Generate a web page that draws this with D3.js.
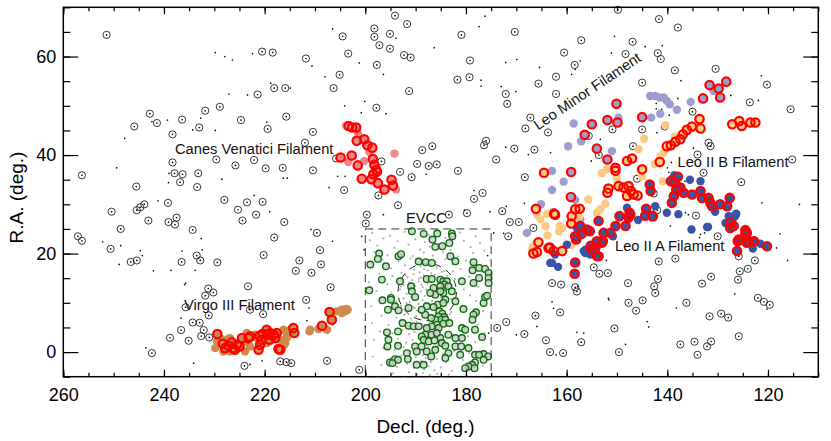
<!DOCTYPE html>
<html>
<head>
<meta charset="utf-8">
<script src="https://cdn.jsdelivr.net/npm/d3@7"></script>
<style>
  body { margin: 0; background: #fff; }
  text { font-family: "Liberation Sans", Arial, Helvetica, sans-serif; }
</style>
</head>
<body>
<div id="chart"></div>
<script>
// axis ranges and ticks
const decRange = [260, 110], raRange = [-5, 70];
const decMajor = [260, 240, 220, 200, 180, 160, 140, 120];
const raMajor = [0, 20, 40, 60];
const decMinor = d3.range(110, 261, 5), raMinor = d3.range(-5, 71, 5);

// background galaxies (open circles with a centre dot)
const galaxies = [
  [251.4,64.4],[220.5,61.0],[218.4,60.8],[218.1,53.6],[221.4,52.3],[228.9,49.8],[231.8,49.0],[242.8,48.4],[241.4,46.5],[236.4,47.2],
  [245.9,45.8],[233.0,45.6],[224.7,47.1],[219.4,45.3],[238.3,44.2],[229.6,39.1],[225.8,37.9],[222.1,39.0],[219.8,37.3],[238.3,38.5],
  [237.9,36.3],[236.3,36.1],[233.2,36.3],[236.8,34.5],[233.4,33.5],[245.5,33.6],[256.3,35.9],[228.0,30.9],[223.5,30.4],[220.4,30.5],
  [239.2,30.3],[243.9,30.0],[244.7,29.4],[245.4,28.8],[250.4,28.5],[225.3,28.9],[221.7,27.9],
  [194.1,68.3],[191.7,66.6],[198.2,65.7],[198.2,64.0],[195.1,64.6],[204.5,64.1],[197.2,62.3],[195.1,61.6],[203.4,60.6],[192.3,60.3],
  [191.0,59.8],[211.8,59.6],[197.7,58.3],[205.1,56.3],[206.3,53.6],[215.9,53.6],[191.3,53.0],[197.8,49.6],[215.7,47.8],[210.4,44.7],
  [212.0,42.5],[205.8,39.3],[216.4,37.4],[210.4,36.9],[204.2,32.9],[197.4,31.8],[193.5,29.8],[199.7,27.9],[196.8,38.7],[193.1,36.6],
  [190.8,35.5],[189.7,38.2],[187.4,37.8],[185.8,38.1],[188.7,41.0],[186.7,41.8],[181.6,36.8],[176.0,42.9],[176.4,42.0],[174.0,39.1],
  [170.4,41.3],[166.4,41.1],[168.3,35.5],[180.9,64.4],[179.2,59.2],[181.7,55.3],[179.3,55.8],[170.3,65.0],[172.1,52.4],[171.8,50.4],
  [165.6,54.5],[167.2,47.6],[168.2,45.4],[163.7,44.6],[176.7,32.3],[178.4,31.1],[172.8,28.6],[179.8,28.2],[183.4,27.9],
  [149.8,69.5],[141.65,67.6],[137.9,65.9],[157.1,63.3],[146.9,63.0],[160.5,60.8],[148.3,60.5],[141.9,60.7],[141.3,59.5],[158.4,58.3],
  [138.5,57.2],[130.4,57.5],[162.1,55.9],[145.0,54.7],[120.2,54.3],[162.1,52.4],[123.6,50.7],[115.5,49.3],[135.0,48.8],[150.9,45.2],
  [145.0,45.2],[140.5,45.8],[155.6,43.9],[131.8,42.5],[131.4,41.8],[146.8,41.8],[153.6,40.0],[134.0,40.1],[132.8,36.4],[115.2,39.1],
  [125.3,34.5],[142.7,32.2],[142.0,28.8],[134.3,27.7],[146.0,35.2],[166.6,25.2],
  [243.1,26.7],[239.1,26.4],[237.8,25.9],[237.5,27.3],[248.6,25.0],[234.3,24.8],[224.4,26.7],[257.1,23.5],[256.3,22.6],[250.6,20.95],
  [246.6,18.3],[245.4,18.6],[236.5,18.3],[233.5,19.6],[232.8,18.6],[229.4,18.2],[220.2,19.7],[218.1,23.25],[231.2,12.9],[231.8,11.45],
  [230.2,12.1],[223.3,13.35],[235.7,9.1],[222.9,8.6],[220.3,7.7],[231.1,7.45],[234.3,6.0],[232.9,5.96],[236.6,4.47],[232.1,4.47],
  [232.6,3.25],[231.0,2.97],[238.8,2.9],[235.1,2.3],[242.4,-0.21],[224.0,-2.79],
  [216.1,26.4],[209.6,24.2],[199.9,26.1],[209.0,20.7],[213.1,18.6],[208.8,17.8],[213.8,16.5],[210.7,16.1],[206.9,13.15],[211.75,10.6],
  [207.6,-1.77],[216.9,-1.9],[215.7,-2.05],[214.7,-2.25],[201.2,-3.6],[171.3,26.4],[169.5,26.4],[171.6,23.5],[173.8,4.9],[172.0,6.1],
  [168.4,3.65],[164.1,2.4],[166.2,7.4],
  [130.0,23.5],[141.7,18.4],[138.4,18.98],[125.8,19.45],[125.6,16.4],[124.0,16.9],[122.6,18.6],[125.95,14.7],[154.6,17.2],[153.5,15.9],
  [151.8,16.05],[147.8,14.0],[162.9,14.0],[161.1,13.7],[158.3,13.15],[157.95,12.3],[141.85,14.85],[142.6,13.35],[142.4,12.0],[133.1,13.9],
  [131.3,15.3],[147.7,10.0],[144.9,10.5],[146.2,8.4],[136.2,10.0],[122.0,11.0],[120.8,10.2],[119.65,9.6],[161.3,8.05],[131.6,7.25],
  [129.3,7.8],[127.9,7.0],[150.5,4.8],[125.8,3.2],[157.1,2.0],[137.4,1.55],[134.6,2.1],[131.3,2.15],[132.1,1.15],[134.0,-0.55],
  [163.3,0.0],[160.7,-0.2],[149.6,0.0]
];

// other galaxies (small dots)
const smallDots = [
  [229.8,60.8],[227.9,60.0],[226.4,59.3],[222.4,60.6],[218.8,54.6],[227.1,52.4],[223.4,52.2],[239.3,47.1],[242.4,46.8],[232.7,47.5],
  [234.3,45.1],[229.8,45.0],[247.8,43.4],[219.6,46.7],[249.4,37.4],[239.0,36.3],[239.1,34.4],[228.5,35.1],[222.1,31.8],[241.2,30.7],[219.0,28.5],
  [206.5,65.6],[193.9,63.7],[210.6,58.1],[201.2,58.7],[208.0,55.9],[196.4,56.4],[214.9,53.6],[204.1,50.0],[200.1,50.9],[200.8,48.6],
  [195.9,48.4],[186.3,61.8],[177.4,66.1],[176.2,68.2],[172.1,58.8],[169.9,59.4],[165.4,57.8],[177.0,55.2],[177.0,54.0],[173.0,53.9],
  [170.1,52.9],[187.9,36.1],[172.1,41.6],[167.6,40.1],[205.5,35.7],[204.0,35.7],[207.2,33.4],[216.3,35.3],[215.5,35.3],[178.4,32.8],
  [180.3,28.8],[175.2,28.5],[172.0,29.6],[168.4,30.2],[196.4,27.9],
  [150.5,64.1],[151.1,60.7],[144.4,62.0],[141.0,62.2],[157.3,59.1],[159.0,56.4],[158.3,57.4],[137.3,55.1],[121.3,56.1],[127.4,52.1],
  [137.9,51.5],[121.9,51.1],[142.2,49.4],[141.1,49.3],[142.2,50.5],[139.6,48.1],[163.2,40.5],[155.1,38.8],[139.2,38.5],[140.0,37.4],
  [139.7,36.5],[139.5,35.7],[134.8,41.4],[124.5,39.5],[136.5,34.7],[121.2,30.3],[113.75,30.0],[135.8,27.9],[153.3,43.2],[142.05,44.55],
  [136.4,28.3],[134.8,25.2],[133.4,23.9],
  [252.2,22.4],[248.6,21.6],[244.7,20.6],[244.3,19.6],[248.9,17.8],[242.1,16.5],[238.6,16.6],[236.4,20.5],[233.8,16.6],[232.6,23.05],
  [232.4,20.75],[235.7,14.0],[235.9,13.7],[236.6,6.9],[243.6,0.87],[234.1,-2.25],[222.9,-2.5],[220.5,-1.77],
  [210.8,24.9],[206.5,22.5],[211.2,8.95],[206.5,5.55],[211.6,6.4],[174.5,24.2],[172.5,24.1],[175.7,19.6],[175.5,3.86],[170.0,3.5],
  [165.9,5.2],[200.7,23.5],[200.2,20.8],[200.0,5.2],
  [152.1,18.6],[116.1,18.6],[117.6,24.0],[118.3,21.15],[133.6,23.25],[132.6,24.2],[139.4,25.6],[126.6,11.8],[151.7,10.9],[151.6,10.6],
  [162.9,10.2],[162.6,8.9],[138.2,8.95],[144.0,6.2],[143.7,5.1],[157.95,4.0],[156.6,3.86],[148.3,1.55],[162.1,-0.55],[120.2,8.75],[157.8,13.35]
];

// EVCC region: faint catalogue dots and EVCC members
const evccBox = { dec: [200, 175], ra: [-5, 25] };
const virgoCircle = { dec: 187.7, ra: 12.2, radius: 5.8 };
const evccFaint = [
  [198.6,24.2],[195.1,23.6],[192.2,24.4],[187.4,23.8],[181.2,24.3],[178.1,23.5],
  [199.1,22.7],[196.4,23.1],[193.6,22.5],[190.1,22.9],[188.2,22.3],[184.1,23.2],[180.4,22.6],[177.2,22.1],
  [197.6,21.6],[194.2,21.2],[191.4,21.8],[189.1,20.8],[187.2,21.4],[185.4,21.9],[183.0,20.7],[179.1,21.3],[176.4,20.6],
  [198.2,20.3],[195.6,19.7],[192.4,20.4],[190.6,19.5],[188.4,20.2],[186.6,19.6],[184.6,20.3],[181.6,19.4],[178.6,20.1],
  [196.6,18.8],[193.4,18.4],[191.0,19.0],[189.6,18.1],[188.1,18.7],[186.0,18.3],[184.1,18.9],[182.6,17.8],[180.0,18.6],[177.0,17.6],
  [199.0,17.3],[194.9,17.0],[192.1,17.6],[190.3,16.7],[189.0,17.4],[187.6,16.6],[185.8,17.2],[184.3,16.4],[181.1,16.9],[176.1,16.2],
  [197.2,15.9],[194.6,15.4],[192.8,16.1],[191.6,15.2],[190.4,15.8],[189.3,14.9],[188.4,15.6],[187.3,15.1],[186.2,15.7],[185.0,15.0],
  [183.7,15.5],[182.2,14.8],[179.4,15.3],[176.8,14.6],
  [199.3,14.2],[195.6,13.8],[193.8,14.4],[192.4,13.6],[191.2,14.1],[190.1,13.4],[189.4,14.3],[188.6,13.2],[187.6,13.9],[186.6,13.1],
  [185.5,13.7],[184.2,12.9],[182.8,13.5],[180.4,12.7],[177.6,13.3],
  [197.8,12.4],[194.8,12.1],[193.1,12.7],[191.8,11.8],[190.8,12.5],[189.9,11.6],[189.0,12.3],[188.2,11.4],[187.3,12.1],[186.4,11.3],
  [185.4,12.0],[184.0,11.2],[182.3,11.9],[179.2,11.5],
  [196.2,10.7],[193.8,10.3],[192.4,10.9],[191.2,10.1],[190.3,10.6],[189.4,9.8],[188.6,10.5],[187.6,9.7],[186.7,10.4],[185.6,9.6],
  [184.2,10.2],[181.6,9.9],[178.0,10.4],
  [198.8,9.3],[194.9,8.9],[192.9,9.4],[191.5,8.6],[190.5,9.2],[189.7,8.4],[188.8,9.0],[187.9,8.2],[187.0,8.8],[186.0,8.0],
  [184.7,8.6],[182.9,8.1],[179.9,8.7],[176.6,8.3],
  [196.8,7.4],[193.8,7.0],[192.2,7.6],[190.9,6.8],[189.9,7.3],[189.0,6.6],[188.3,7.2],[187.5,6.4],[186.6,7.0],[185.4,6.3],[183.6,6.9],[178.6,7.1],
  [198.7,5.9],[195.4,5.5],[193.1,6.1],[191.6,5.3],[190.4,5.8],[189.5,5.0],[188.7,5.6],[187.9,4.8],[186.9,5.4],[185.7,4.7],
  [184.0,5.3],[181.4,4.9],[177.7,5.5],
  [197.1,4.2],[194.6,3.8],[192.6,4.4],[191.3,3.6],[190.2,4.1],[189.3,3.3],[188.5,3.9],[187.6,3.1],[186.5,3.7],[185.1,3.0],
  [182.8,3.6],[179.6,3.2],[176.3,3.8],
  [198.3,2.5],[195.7,2.1],[193.5,2.7],[191.9,1.9],[190.6,2.4],[189.7,1.6],[188.8,2.2],[187.8,1.4],[186.8,2.0],[185.6,1.3],
  [184.3,1.9],[181.2,1.5],[178.2,2.1],
  [196.4,0.8],[194.2,0.4],[192.4,1.0],[191.0,0.2],[190.0,0.7],[189.1,-0.1],[188.2,0.5],[187.2,-0.3],[186.1,0.3],[184.6,-0.4],[182.4,0.2],[179.3,-0.2],
  [198.5,-0.9],[195.0,-1.3],[192.8,-0.7],[191.2,-1.5],[190.0,-1.0],[188.9,-1.8],[188.0,-1.2],[187.0,-2.0],[185.8,-1.4],[184.0,-2.1],[180.6,-1.6],[177.0,-1.1],
  [196.8,-2.6],[193.7,-3.0],[191.7,-2.4],[190.4,-3.2],[189.3,-2.7],[188.3,-3.5],[187.4,-2.9],[186.3,-3.7],[185.0,-3.1],[182.8,-3.8],[179.4,-3.3],[176.6,-2.8],
  [194.5,-4.3],[191.3,-4.1],[189.7,-4.6],[188.5,-4.2],[187.2,-4.7],[185.7,-4.4],[183.4,-4.6],
  // denser core round M87
  [189.2,16.2],[188.3,16.9],[187.0,17.8],[186.9,16.0],[190.7,14.6],[188.9,13.7],[187.9,12.7],[186.0,12.6],[185.0,11.1],[189.5,10.9],
  [190.9,11.2],[188.0,10.0],[186.3,9.0],[189.1,8.0],[187.3,7.5],[185.0,7.4],[190.2,8.9],[191.8,9.9],[192.9,13.3],[192.0,15.6],
  [184.8,16.3],[183.9,14.2],[186.9,14.3],[188.9,15.1],[191.5,12.9],[185.9,10.1],[184.6,9.2],[189.8,6.2],[188.1,5.2],[186.2,4.2],
  [189.0,2.7],[187.5,0.9],[188.6,-0.6],[186.8,-1.1],[188.6,-2.3],[190.7,1.3],[185.2,5.9],[183.2,7.7],[183.0,10.8],[182.6,16.4]
];
const evccMembers = [
  [190.75,24.55],[188.4,24.0],[185.7,24.07],[182.8,24.07],[182.7,23.5],[186.65,22.85],[186.1,21.36],[184.7,21.5],[183.3,22.17],
  [197.25,20.0],[193.4,19.46],[192.9,19.87],[183.1,19.46],[197.5,18.92],[199.0,17.76],[195.9,17.42],[189.4,18.37],[188.0,18.24],
  [186.8,18.1],[182.1,18.44],[178.5,18.24],[177.4,17.09],[176.2,16.88],[178.7,16.61],[175.5,16.07],
  [196.7,14.71],[193.1,14.37],[190.9,13.36],[187.8,14.85],[186.8,14.85],[185.1,14.71],[184.5,14.37],[183.8,14.37],[184.3,13.7],
  [185.1,13.36],[183.5,13.36],[180.8,14.37],[178.5,14.03],[177.4,15.05],[175.5,15.05],[175.5,14.03],
  [199.2,12.54],[190.75,12.34],[186.45,13.02],[182.8,12.34],[184.5,12.0],[186.1,11.66],[190.1,11.19],[187.1,12.0],[185.1,12.34],
  [196.6,10.51],[194.9,10.98],[194.9,10.64],[184.1,10.64],[185.6,9.63],[184.5,9.97],[176.5,9.97],[176.2,11.19],[175.8,11.46],
  [194.1,9.29],[187.8,9.29],[186.45,9.15],[182.1,10.3],
  [195.5,8.61],[193.4,8.47],[191.4,8.95],[180.5,8.74],[178.0,8.07],[178.5,7.59],[178.7,6.57],[185.3,8.27],[184.7,7.8],[185.45,7.25],
  [184.3,7.12],[184.9,6.57],[186.1,6.57],[184.1,6.57],[186.9,6.91],[188.1,7.59],[188.8,8.61],
  [185.8,5.56],[184.5,5.76],[183.3,5.9],[192.6,5.9],[191.4,5.35],[190.4,5.22],[189.4,5.22],[180.8,4.88],[180.15,4.54],[178.2,4.54],
  [186.8,5.22],[187.8,4.88],[185.45,4.88],
  [195.7,4.0],[193.5,4.2],[188.1,3.52],[186.8,3.52],[183.5,3.52],[185.1,2.84],[182.1,2.84],[180.8,2.84],[176.8,3.05],[188.8,3.18],[185.8,3.86],
  [195.4,2.5],[188.4,2.5],[187.4,2.17],[186.25,2.37],[184.8,1.83],[193.5,1.28],[195.6,1.15],[190.1,1.15],[188.8,1.15],[182.1,1.15],
  [180.95,1.15],[179.5,0.81],[184.1,1.28],
  [189.8,0.13],[187.8,0.13],[186.1,0.47],[183.5,-0.21],[191.75,-0.21],[181.15,-0.55],[178.2,-0.55],[176.5,-0.41],[177.4,-0.55],
  [175.6,-0.89],[186.9,-0.89],[184.1,-1.22],
  [191.55,-1.43],[195.1,-2.11],[194.1,-1.43],[193.5,-1.56],[194.6,-2.24],[178.2,-2.11],[176.5,-1.56],[189.8,-2.58],[188.4,-2.58],
  [178.8,-2.58],[179.5,-2.92],[180.15,-3.26],[178.3,-3.26]
];

// filament members: [dec, ra, detected] (detected = 1 gets a red ring)
const canesVenatici = [
  [203.3,45.9,1],[202.6,45.6,1],[201.8,45.6,1],[201.7,42.9,1],[200.2,43.2,1],[199.6,42.0,1],[198.6,41.5,1],[204.9,39.5,1],
  [202.7,39.9,1],[201.5,37.9,1],[198.5,39.2,1],[198.2,38.0,1],[197.8,37.0,1],[197.7,36.6,1],[198.4,36.1,1],[200.7,35.2,1],
  [198.8,35.1,1],[197.5,34.3,1],[196.2,33.0,1],[194.8,35.0,1],[194.5,33.8,1],
  [203.8,46.0,0],[203.4,38.6,0],[200.2,38.8,0],[194.2,40.3,0],[193.9,33.0,0],[201.4,44.2,0],[199.2,40.6,0]
];
const virgoIII = [
  [229.4,3.65,1],[228.3,1.69,1],[227.85,0.8,1],[227.2,1.28,1],[226.5,1.96,1],[226.3,0.8,1],[225.9,0.47,1],[225.5,1.49,1],
  [225.0,1.15,1],[224.5,2.84,1],[223.2,2.84,1],[222.9,3.18,1],[221.0,3.32,1],[220.6,2.5,1],[220.9,1.49,1],[221.2,0.47,1],
  [220.4,3.72,1],[219.6,4.54,1],[219.4,3.52,1],[218.9,3.86,1],[218.2,3.52,1],[217.9,2.84,1],[217.6,3.86,1],[219.0,2.5,1],
  [217.25,0.6,1],[214.3,4.88,1],[214.1,3.86,1],[208.6,5.35,1],[207.1,8.13,1],[206.65,6.57,1],[216.9,0.46,1],
  [229.8,0.8,0],[229.5,2.16,0],[228.85,2.84,0],[227.5,2.5,0],[226.9,2.84,0],[223.9,2.16,0],[223.55,3.86,0],[221.9,3.52,0],
  [221.55,2.84,0],[219.6,1.82,0],[216.9,2.5,0],[215.6,3.18,0],[215.9,1.82,0],[215.5,3.72,0],[216.25,4.54,0],[214.9,4.54,0],
  [211.1,4.2,0],[209.3,4.67,0],[207.6,4.54,0],[204.65,7.93,0],[204.3,8.6,0],[204.0,8.27,0],[203.7,8.74,0],[228.2,0.13,0],
  [226.9,0.13,0],[223.9,0.13,0],[222.9,1.15,0],[216.1,2.16,0],[215.6,2.84,0],[210.95,4.54,0],[209.1,4.88,0],[205.7,8.27,0],
  [204.7,8.6,0],[203.5,8.6,0],[216.1,1.48,0]
];
const leoMinor = [
  [131.6,54.2,1],[129.8,53.5,1],[128.3,54.9,1],[129.5,51.7,1],[132.9,51.5,1],[150.1,50.4,1],[151.9,47.1,1],[149.9,46.6,1],
  [155.0,46.25,1],[156.4,44.1,1],[145.0,47.7,1],[154.0,41.3,1],[151.9,39.1,1],[159.1,36.55,1],[159.15,31.5,1],
  [143.4,52.0,0],[142.4,52.0,0],[141.5,51.7,0],[140.7,51.7,0],[140.1,51.0,0],[139.5,50.3,0],[135.35,50.8,0],[138.1,49.2,0],
  [143.2,47.6,0],[141.4,48.4,0],[149.7,47.6,0],[158.6,46.4,0],[157.1,42.8,0],[159.7,41.8,0],[151.0,40.8,0],[162.9,36.75,0],
  [160.6,34.6,0],[162.9,32.9,0],[162.6,28.4,0],[165.1,30.0,0],[167.9,24.2,0],[157.3,26.9,0],[130.8,53.0,0],[158.3,30.9,0]
];
const leoIIB = [
  [133.6,47.3,1],[135.1,45.8,1],[136.1,45.1,1],[136.9,44.2,1],[133.4,45.4,1],[127.1,46.25,1],[125.7,46.9,1],[125.2,45.9,1],
  [123.5,46.6,1],[122.5,46.6,1],[137.4,43.2,1],[138.4,42.7,1],[139.3,42.0,1],[140.1,41.8,1],[141.5,38.6,1],[147.0,39.3,1],
  [148.0,38.8,1],[150.3,37.4,1],[150.3,36.8,1],[145.0,37.1,1],[151.7,33.2,1],[151.9,32.35,1],[149.7,33.7,1],[148.7,33.4,1],
  [147.7,33.7,1],[147.2,32.7,1],[146.7,32.0,1],[145.9,31.8,1],[148.0,31.7,1],[162.5,28.1,1],[158.3,29.0,1],[157.4,29.1,1],
  [159.0,27.6,1],[159.1,26.1,1],[165.6,22.3,1],[166.6,20.0,1],[165.9,20.3,1],[160.9,20.5,1],[163.3,21.2,1],[162.3,27.9,1],
  [163.6,21.15,1],[162.6,20.5,1],[164.5,36.4,1],[166.1,29.1,1],
  [144.6,43.3,0],[145.7,41.2,0],[140.4,46.05,0],[140.7,40.5,0],[141.4,39.7,0],[152.0,37.1,0],[153.0,36.3,0],[140.9,34.7,0],
  [152.3,30.1,0],[160.9,25.2,0],[163.8,23.7,0],[159.1,21.8,0],[161.4,25.6,0],[154.0,28.3,0],[153.3,29.0,0],[163.9,28.1,0],
  [145.0,35.7,0],[136.4,45.4,0],[135.3,45.4,0],[166.6,21.5,0],[166.9,20.8,0],[165.9,27.95,0],[165.2,27.0,0],[164.2,25.5,0],
  [161.5,24.5,0],[150.0,35.2,0],[155.7,31.0,0],[157.5,27.5,0],[138.5,43.8,0],[142.5,38.2,0]
];
const leoIIA = [
  [143.5,34.0,1],[143.3,32.7,1],[137.9,35.6,1],[138.5,34.4,1],[139.3,34.7,1],[137.4,33.4,1],[138.2,33.0,1],[136.75,32.35,1],
  [138.7,31.7,1],[139.1,30.3,1],[135.1,32.0,1],[133.4,32.7,1],[133.1,31.3,1],[131.8,31.3,1],[131.45,30.3,1],[131.1,29.6,1],
  [129.5,30.0,1],[127.6,31.3,1],[128.1,29.6,1],[144.2,29.1,1],[142.85,27.6,1],[147.5,28.3,1],[149.5,27.6,1],[147.7,27.3,1],
  [157.3,25.6,1],[156.0,24.9,1],[153.65,26.6,1],[157.0,24.0,1],[158.3,23.5,1],[158.1,22.85,1],[155.4,24.55,1],[152.65,24.2,1],
  [152.8,22.5,1],[151.3,24.2,1],[150.3,25.6,1],[158.3,18.2,1],[154.0,19.5,1],[155.2,21.6,1],[127.5,26.25,1],[126.8,25.6,1],
  [127.5,25.2,1],[126.0,22.5,1],[125.2,22.85,1],[124.2,24.2,1],[124.2,22.2,1],[122.8,22.5,1],[120.2,21.5,1],[126.15,20.5,1],
  [154.0,22.5,1],[153.0,22.2,1],[154.3,21.15,1],[155.0,20.8,1],[153.65,19.45,1],[158.4,15.9,1],[148.3,25.6,1],[147.35,27.9,1],
  [144.4,27.7,1],[143.0,27.6,1],[124.5,24.75,1],[124.5,23.9,1],[125.8,22.85,1],[123.8,22.5,1],[122.85,22.5,1],
  [133.4,34.7,0],[132.1,25.4,0],[126.3,28.1,0],[126.8,27.3,0],[138.6,35.9,0],[148.0,29.3,0],[142.4,29.6,0],[140.1,28.3,0],
  [144.4,27.7,0],[157.96,25.2,0],[156.3,20.8,0],[155.3,19.8,0],[156.6,20.5,0],[162.9,18.1,0],[162.3,19.8,0],[159.95,21.8,0],
  [127.8,27.6,0],[126.5,27.6,0],[161.7,17.3,0],[163.25,18.1,0],[131.9,25.4,0],[128.45,26.2,0],[126.5,27.9,0],[155.6,20.5,0],
  [156.3,20.1,0],[135.5,35.0,0],[130.5,28.5,0],[121.5,22.0,0],[123.0,21.0,0],[137.8,28.0,0],[145.8,26.8,0],[150.8,23.5,0],[135.2,24.9,0]
];

const filaments = [
  { name: "Virgo III", members: virgoIII, color: "#cd8a4c" },
  { name: "Canes Venatici", members: canesVenatici, color: "#f08787" },
  { name: "Leo Minor", members: leoMinor, color: "#9d9dcf" },
  { name: "Leo II B", members: leoIIB, color: "#fdca82" },
  { name: "Leo II A", members: leoIIA, color: "#3a55a8" }
];

const labels = [
  { text: "Canes Venatici Filament", x: 175, y: 153.5, rot: 0 },
  { text: "Virgo III Filament", x: 184, y: 309.5, rot: 0 },
  { text: "EVCC", x: 406, y: 222.7, rot: 0 },
  { text: "Leo II B Filament", x: 677.5, y: 166.7, rot: 0 },
  { text: "Leo II A Filament", x: 615, y: 251, rot: 0 },
  { text: "Leo Minor Filament", x: 538, y: 130.5, rot: -34 }
];

const W = 831, H = 441;
const margin = { top: 7.3, right: 12.7, bottom: 64.3, left: 63.3 },
  w = W - margin.left - margin.right,
  h = H - margin.top - margin.bottom;

const root = d3.select("#chart").append("svg")
  .attr("width", W).attr("height", H);
const svg = root.append("g")
  .attr("transform", `translate(${margin.left}, ${margin.top})`);

const x = d3.scaleLinear().domain(decRange).range([0, w]);
const y = d3.scaleLinear().domain(raRange).range([h, 0]);

// galaxies
svg.append("g").selectAll("circle")
  .data(galaxies).join("circle")
  .attr("cx", d => x(d[0])).attr("cy", d => y(d[1])).attr("r", 3.6)
  .attr("fill", "none").attr("stroke", "#222").attr("stroke-width", 0.9);
svg.append("g").selectAll("circle")
  .data(galaxies.concat(smallDots)).join("circle")
  .attr("cx", d => x(d[0])).attr("cy", d => y(d[1])).attr("r", 0.85)
  .attr("fill", "#111");

// EVCC
svg.append("g").selectAll("circle")
  .data(evccFaint).join("circle")
  .attr("cx", d => x(d[0])).attr("cy", d => y(d[1])).attr("r", 1.1)
  .attr("fill", "#b0b0b0");
svg.append("ellipse")
  .attr("cx", x(virgoCircle.dec)).attr("cy", y(virgoCircle.ra))
  .attr("rx", Math.abs(x(virgoCircle.dec + virgoCircle.radius) - x(virgoCircle.dec)))
  .attr("ry", Math.abs(y(virgoCircle.ra + virgoCircle.radius) - y(virgoCircle.ra)))
  .attr("fill", "none").attr("stroke", "#222").attr("stroke-width", 1)
  .attr("stroke-dasharray", "7,6");
svg.append("g").selectAll("circle")
  .data(evccMembers).join("circle")
  .attr("cx", d => x(d[0])).attr("cy", d => y(d[1])).attr("r", 3.3)
  .attr("fill", "#cfcfcf").attr("fill-opacity", 0.85)
  .attr("stroke", "#0e6e0e").attr("stroke-width", 1.35);
svg.append("rect")
  .attr("x", x(evccBox.dec[0])).attr("y", y(evccBox.ra[1]))
  .attr("width", x(evccBox.dec[1]) - x(evccBox.dec[0]))
  .attr("height", y(evccBox.ra[0]) - y(evccBox.ra[1]))
  .attr("fill", "none").attr("stroke", "#333").attr("stroke-width", 1)
  .attr("stroke-dasharray", "8,5");

// filament members, then red rings for detections
filaments.forEach(f => {
  svg.append("g").selectAll("circle")
    .data(f.members).join("circle")
    .attr("cx", d => x(d[0])).attr("cy", d => y(d[1])).attr("r", 4.2)
    .attr("fill", f.color);
});
filaments.forEach(f => {
  svg.append("g").selectAll("circle")
    .data(f.members.filter(d => d[2] === 1)).join("circle")
    .attr("cx", d => x(d[0])).attr("cy", d => y(d[1])).attr("r", 4.2)
    .attr("fill", "none").attr("stroke", "#ff0000").attr("stroke-width", 2.2);
});

// axes
function styleAxis(g) {
  g.select(".domain").remove();
  g.selectAll(".tick line").attr("stroke", "#000").attr("stroke-width", 1.2);
  g.selectAll(".tick text").attr("fill", "#000")
    .attr("font-size", 18).attr("font-family", '"Liberation Sans", Arial, sans-serif');
}
svg.append("g").attr("transform", `translate(0, ${h})`)
  .call(d3.axisBottom(x).tickValues(decMajor).tickSizeInner(-7).tickSizeOuter(0).tickPadding(12))
  .call(styleAxis);
svg.append("g").attr("transform", `translate(0, ${h})`)
  .call(d3.axisBottom(x).tickValues(decMinor).tickSize(-4).tickFormat(""))
  .call(styleAxis);
svg.append("g")
  .call(d3.axisTop(x).tickValues(decMajor).tickSize(-7).tickFormat(""))
  .call(styleAxis);
svg.append("g")
  .call(d3.axisTop(x).tickValues(decMinor).tickSize(-4).tickFormat(""))
  .call(styleAxis);
svg.append("g")
  .call(d3.axisLeft(y).tickValues(raMajor).tickSizeInner(-15).tickSizeOuter(0).tickPadding(7))
  .call(styleAxis);
svg.append("g")
  .call(d3.axisLeft(y).tickValues(raMinor).tickSize(-7).tickFormat(""))
  .call(styleAxis);
svg.append("g").attr("transform", `translate(${w}, 0)`)
  .call(d3.axisRight(y).tickValues(raMajor).tickSize(-15).tickFormat(""))
  .call(styleAxis);
svg.append("g").attr("transform", `translate(${w}, 0)`)
  .call(d3.axisRight(y).tickValues(raMinor).tickSize(-7).tickFormat(""))
  .call(styleAxis);

svg.append("rect")
  .attr("width", w).attr("height", h)
  .attr("fill", "none").attr("stroke", "#000").attr("stroke-width", 1.5);

// annotations
root.append("g").selectAll("text")
  .data(labels).join("text")
  .attr("transform", d => `translate(${d.x}, ${d.y}) rotate(${d.rot})`)
  .style("font-size", "14.7px")
  .attr("fill", "#111")
  .text(d => d.text);

// axis titles
root.append("text")
  .attr("x", 425.5).attr("y", 432.5)
  .attr("text-anchor", "middle")
  .style("font-size", "19px")
  .text("Decl. (deg.)");
root.append("text")
  .attr("transform", "translate(22.5, 197.5) rotate(-90)")
  .attr("text-anchor", "middle")
  .style("font-size", "19px")
  .text("R.A. (deg.)");
</script>
</body>
</html>
